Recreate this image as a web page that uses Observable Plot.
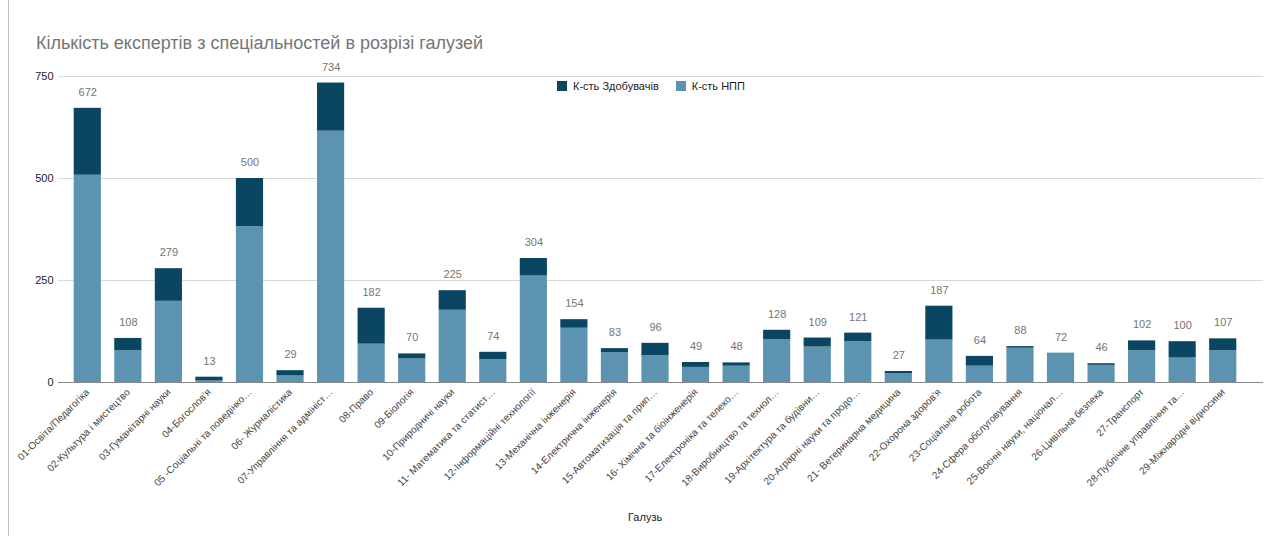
<!DOCTYPE html>
<html><head><meta charset="utf-8">
<script src="https://cdn.jsdelivr.net/npm/d3@7"></script>
<script src="https://cdn.jsdelivr.net/npm/@observablehq/plot@0.6"></script>
<style>
body{margin:0;background:#fff;font-family:"Liberation Sans",Arial,sans-serif;}
#wrap{position:relative;width:1288px;height:542px;overflow:hidden;}
#border{position:absolute;left:8px;top:0;width:1px;height:536px;background:#bdbdbd;}
#title{position:absolute;left:36px;top:33px;font-size:18px;color:#757575;white-space:nowrap;}
#legend{position:absolute;left:557px;top:80px;font-size:11px;color:#222;display:flex;align-items:center;white-space:nowrap;}
#xlabel{position:absolute;left:628px;top:511px;font-size:11px;color:#222;}
.sw{width:10px;height:10px;display:inline-block;margin-right:6px;}
#chart{position:absolute;left:0;top:0;}
</style></head>
<body>
<div id="wrap">
<div id="border"></div>
<div id="chart"></div>
<div id="title">Кількість експертів з спеціальностей в розрізі галузей</div>
<div id="legend"><span class="sw" style="background:#0a4662"></span><span style="margin-right:17px">К-сть Здобувачів</span><span class="sw" style="background:#5b93b0"></span><span>К-сть НПП</span></div>
<div id="xlabel">Галузь</div>
</div>
<script>
const categories = ["01-Освіта/Педагогіка","02-Культура і мистецтво","03-Гуманітарні науки","04-Богослов'я","05 -Соціальні та поведінко…","06- Журналістика","07-Управління та адмініст…","08-Право","09-Біологія","10-Природничі науки","11- Математика та статист…","12-Інформаційні технології","13-Механічна інженерія","14-Електрична інженерія","15-Автоматизація та прип…","16- Хімічна та біоінженерія","17-Електроніка та телеко…","18-Виробництво та технол…","19-Архітектура та будівни…","20-Аграрні науки та продо…","21- Ветеринарна медицина","22-Охорона здоров'я","23-Соціальна робота","24-Сфера обслуговування","25-Воєнні науки, націонал…","26-Цивільна безпека","27-Транспорт","28-Публічне управління та…","29-Міжнародні відносини"];
const npp  = [508,78,199,4,382,16,616,94,58,177,56,261,133,73,66,37,40,105,87,100,22,104,40,84,72,42,78,60,78];
const zdob = [164,30,80,9,118,13,118,88,12,48,18,43,21,10,30,12,8,23,22,21,5,83,24,4,0,4,24,40,29];
const yTicks = [0,250,500,750];
const seriesNames = ["К-сть Здобувачів","К-сть НПП"];
const colors = ["#0a4662","#5b93b0"];

const data = categories.map((c,i)=>({cat:c, npp:npp[i], zdob:zdob[i], total:npp[i]+zdob[i]}));

const chart = Plot.plot({
  width:1288, height:542,
  marginTop:76, marginBottom:160, marginLeft:67, marginRight:45,
  style:{fontFamily:"'Liberation Sans', Arial, sans-serif", fontSize:"11px", color:"#444", background:"transparent"},
  x:{domain:categories, round:false, paddingInner:0.33, paddingOuter:0.165, tickRotate:-45, tickSize:0, tickPadding:8, label:null},
  y:{domain:[0,750], ticks:yTicks, tickSize:0, tickPadding:14, label:null},
  marks:[
    Plot.ruleY(yTicks.slice(1), {stroke:"#d9d9d9", insetLeft:-9, insetRight:-20}),
    Plot.barY(data, {x:"cat", y1:0, y2:"npp", fill:colors[1]}),
    Plot.barY(data, {x:"cat", y1:"npp", y2:"total", fill:colors[0]}),
    Plot.ruleY([0], {stroke:"#888", insetLeft:-9, insetRight:-20}),
    Plot.text(data, {x:"cat", y:"total", text:d=>String(d.total), dy:-16, fill:"#757575", fontSize:11})
  ]
});
d3.select(chart).selectAll("g[aria-label='x-axis tick label'] text, g[aria-label='x-axis'] text").style("font-size","10px");
d3.select(chart).selectAll("g[aria-label='y-axis tick label'], g[aria-label='y-axis']").attr("fill","#222");
document.getElementById("chart").appendChild(chart);
</script>
</body></html>
